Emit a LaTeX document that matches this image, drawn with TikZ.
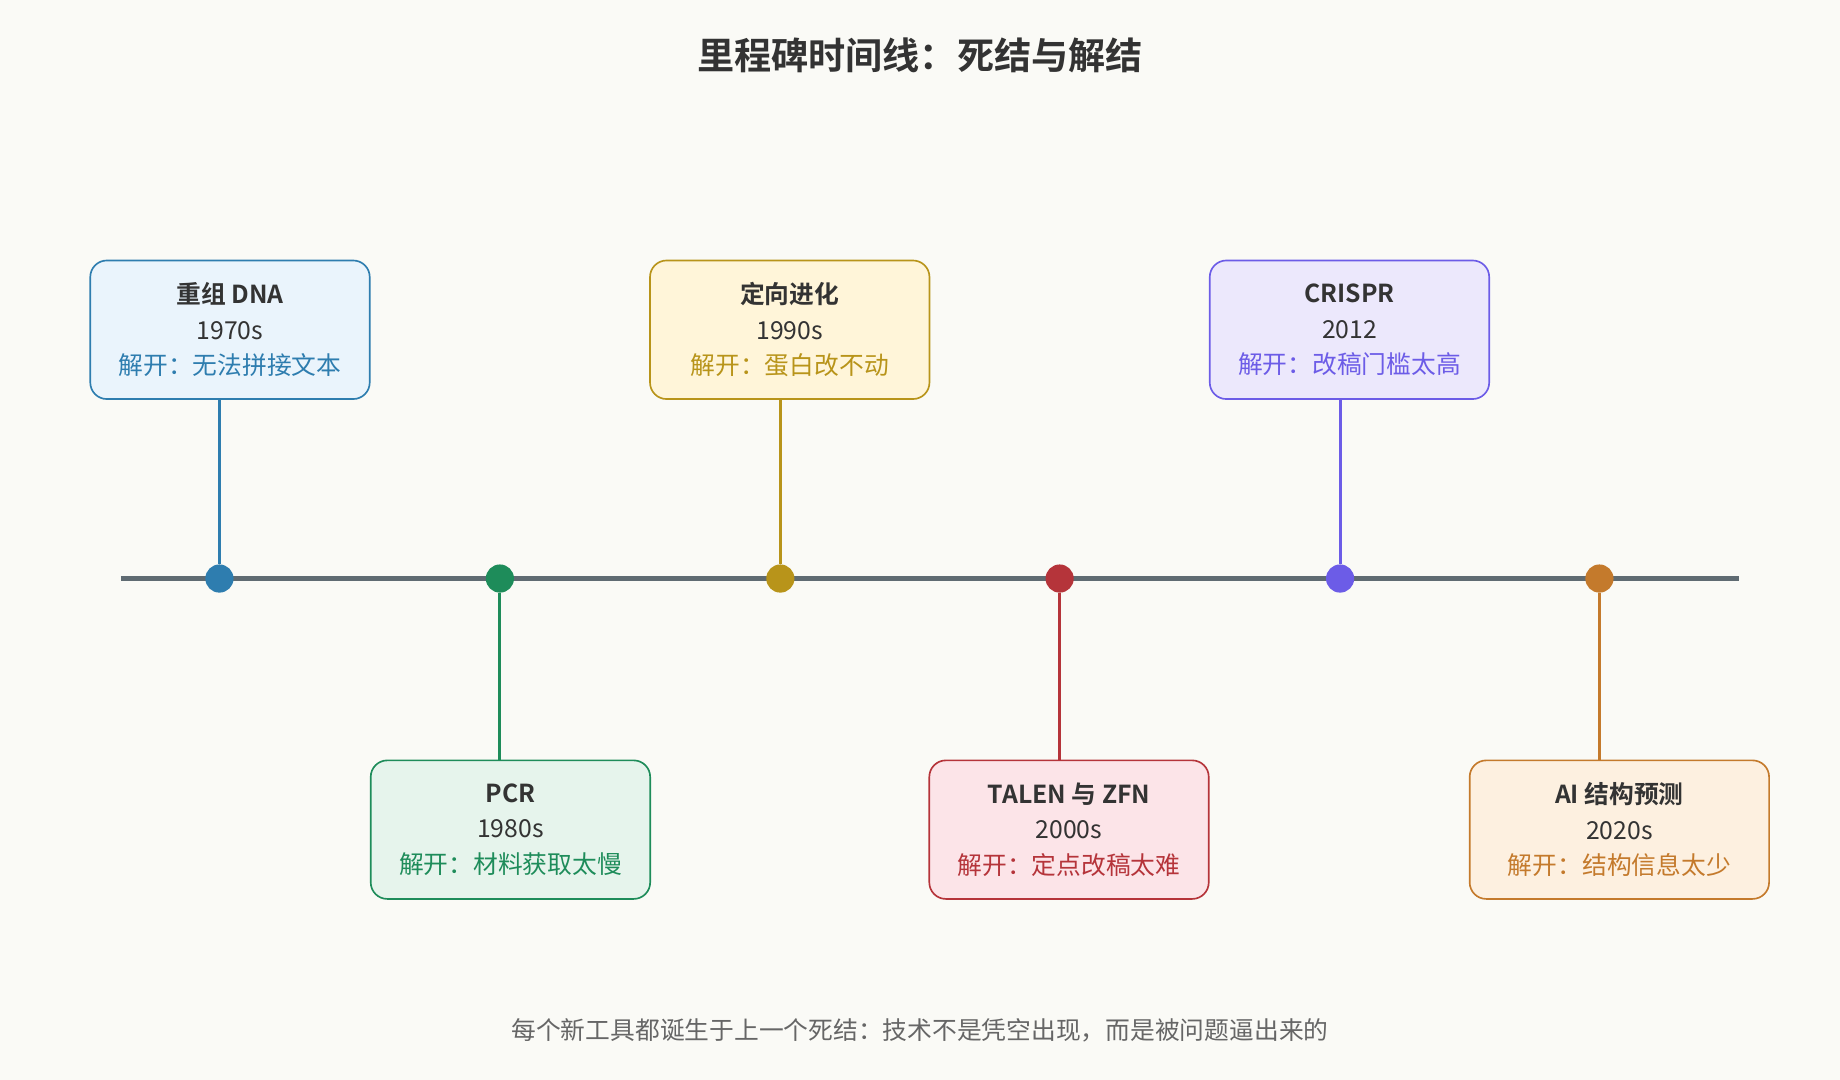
\documentclass[tikz,border=0pt]{standalone}
\usepackage{fontspec}
\setmainfont{Noto Sans CJK SC}[BoldFont={Noto Sans CJK SC Bold}]
\definecolor{bg}{HTML}{FAFAF6}
\definecolor{axis}{HTML}{5F6B72}
\definecolor{cA}{HTML}{2E7DAF}\definecolor{fA}{HTML}{EAF4FC}
\definecolor{cB}{HTML}{1E8C5A}\definecolor{fB}{HTML}{E6F4EC}
\definecolor{cC}{HTML}{B8941A}\definecolor{fC}{HTML}{FFF5D9}
\definecolor{cD}{HTML}{B5343A}\definecolor{fD}{HTML}{FCE4E8}
\definecolor{cE}{HTML}{6C5CE7}\definecolor{fE}{HTML}{ECE8FC}
\definecolor{cF}{HTML}{C47A2C}\definecolor{fF}{HTML}{FDF0E0}
\begin{document}
\begin{tikzpicture}
    [
    x=0.01cm,y=-0.01cm,
    event/.style={draw=c#1,fill=f#1,rounded corners=4pt,thin,minimum width=2.38cm,minimum height=1.18cm,
      align=center,font=\fontsize{6}{8.6}\selectfont,text=black!80},
    dot/.style={circle,fill=#1,inner sep=0pt,minimum size=0.24cm},
    stem/.style={draw=#1,line width=0.7pt}
    ]
    \fill[bg] (0,0) rectangle (1568,920);
    \node (title) at (784,47) {\fontsize{9}{11}\selectfont\bfseries\color{black!80}里程碑时间线：死结与解结};
    \draw [axis,line width=1.4pt] (103,493) -- (1482,493);
    \node (b1) at (196,281) [event=A] {{\bfseries 重组 DNA}\\1970s\\\color{cA}解开：无法拼接文本};
    \node (b2) at (435,707) [event=B] {{\bfseries PCR}\\1980s\\\color{cB}解开：材料获取太慢};
    \node (b3) at (673,281) [event=C] {{\bfseries 定向进化}\\1990s\\\color{cC}解开：蛋白改不动};
    \node (b4) at (911,707) [event=D] {{\bfseries TALEN 与 ZFN}\\2000s\\\color{cD}解开：定点改稿太难};
    \node (b5) at (1150,281) [event=E] {{\bfseries CRISPR}\\2012\\\color{cE}解开：改稿门槛太高};
    \node (b6) at (1380,707) [event=F,minimum width=2.55cm] {{\bfseries AI 结构预测}\\2020s\\\color{cF}解开：结构信息太少};
    \node (d1) at (187,493) [dot=cA] {};
    \node (d2) at (426,493) [dot=cB] {};
    \node (d3) at (665,493) [dot=cC] {};
    \node (d4) at (903,493) [dot=cD] {};
    \node (d5) at (1142,493) [dot=cE] {};
    \node (d6) at (1363,493) [dot=cF] {};
    \draw [stem=cA] (b1.south -| d1) -- (d1);
    \draw [stem=cB] (b2.north -| d2) -- (d2);
    \draw [stem=cC] (b3.south -| d3) -- (d3);
    \draw [stem=cD] (b4.north -| d4) -- (d4);
    \draw [stem=cE] (b5.south -| d5) -- (d5);
    \draw [stem=cF] (b6.north -| d6) -- (d6);
    \node (note) at (784,878) {\fontsize{6}{8}\selectfont\color{black!60}每个新工具都诞生于上一个死结：技术不是凭空出现，而是被问题逼出来的};
  \end{tikzpicture}
\end{document}
